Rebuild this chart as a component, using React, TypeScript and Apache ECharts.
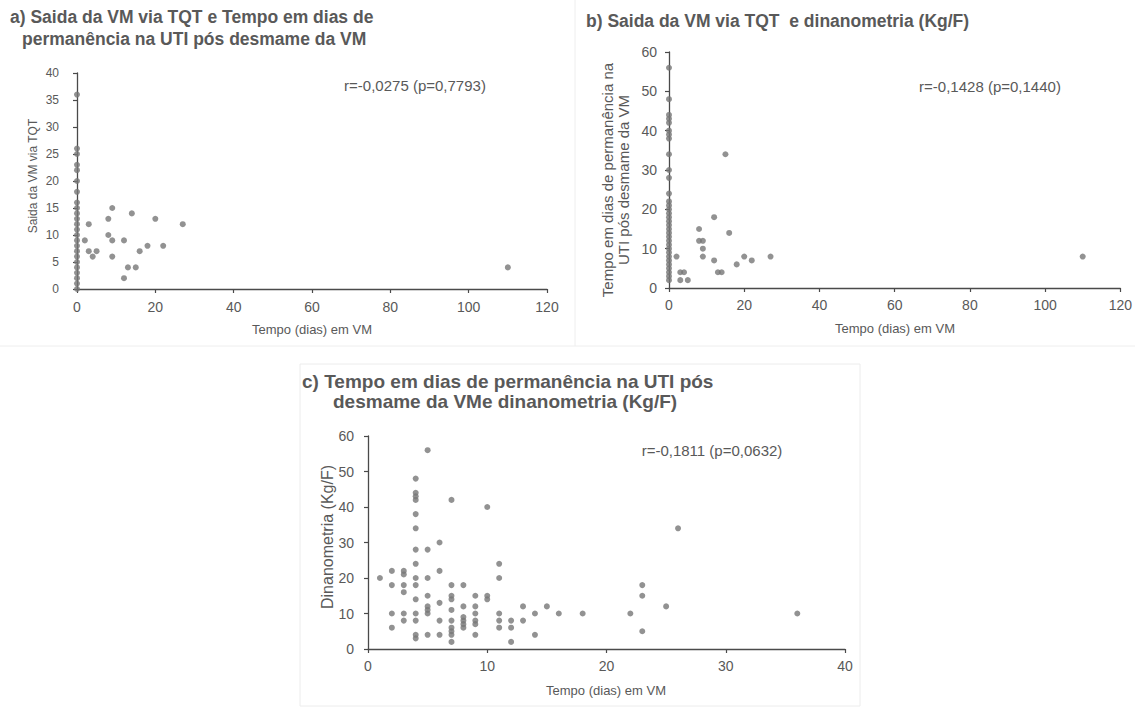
import React, { useEffect, useRef } from "react";
import * as echarts from "echarts";

const FONT = "'Liberation Sans', Arial, sans-serif";
const TEXT = "#595959";
const AXIS = "#4a4a4a";
const DOT = "#777777";

// Panel a: Tempo (dias) em VM vs Saida da VM via TQT
const aTempo = [
  0, 0, 0, 0, 0, 0, 0, 0, 0, 0, 0, 0, 0, 0, 0, 0, 0, 0, 0, 0, 0, 0, 0, 0,
  2, 3, 3, 4, 5, 8, 8, 9, 9, 9, 12, 12, 13, 14, 15, 16, 18, 20, 22, 27, 110,
];
const aSaida = [
  36, 26, 25, 23, 22, 20, 18, 16, 15, 14, 13, 12, 11, 10, 9, 8, 7, 6, 5, 4, 3, 2, 1, 0,
  9, 12, 7, 6, 7, 13, 10, 15, 9, 6, 9, 2, 4, 14, 4, 7, 8, 13, 8, 12, 4,
];

// Panel b: Tempo (dias) em VM vs Tempo em dias de permanência na UTI
const bTempo = [
  0, 0, 0, 0, 0, 0, 0, 0, 0, 0, 0, 0, 0, 0, 0, 0, 0, 0, 0, 0, 0, 0, 0, 0, 0, 0, 0, 0, 0, 0, 0, 0, 0,
  2, 3, 4, 3, 5, 8, 8, 9, 9, 9, 12, 12, 13, 14, 15, 16, 18, 20, 22, 27, 110,
];
const bPermanencia = [
  56, 48, 44, 43, 42, 40, 39, 38, 34, 30, 28, 24, 22, 21, 20, 19, 18, 17, 16, 15, 14, 13, 12, 11, 10, 9, 8, 7, 6, 5, 4, 3, 2,
  8, 4, 4, 2, 2, 15, 12, 12, 10, 8, 18, 7, 4, 4, 34, 14, 6, 8, 7, 8, 8,
];

// Panel c: Tempo (dias) em VM vs Dinanometria (Kg/F)
const cTempo = [
  1,
  2, 2, 2, 2,
  3, 3, 3, 3, 3, 3,
  4, 4, 4, 4, 4, 4, 4, 4, 4, 4, 4, 4, 4, 4, 4,
  5, 5, 5, 5, 5, 5, 5, 5,
  6, 6, 6, 6, 6,
  7, 7, 7, 7, 7, 7, 7, 7, 7, 7,
  8, 8, 8, 8, 8, 8,
  9, 9, 9, 9, 9, 9,
  10, 10, 10,
  11, 11, 11, 11, 11,
  12, 12, 12,
  13, 13,
  14, 14,
  15, 16, 18, 22,
  23, 23, 23,
  25, 26, 36,
];
const cDinanometria = [
  20,
  22, 18, 10, 6,
  22, 21, 18, 16, 10, 8,
  48, 44, 43, 42, 38, 34, 28, 24, 20, 18, 14, 10, 8, 4, 3,
  56, 28, 20, 15, 12, 11, 10, 4,
  30, 22, 13, 8, 4,
  42, 18, 15, 14, 11, 8, 6, 5, 4, 2,
  18, 12, 9, 8, 7, 6,
  15, 12, 10, 8, 7, 4,
  40, 15, 14,
  24, 20, 10, 8, 6,
  8, 6, 2,
  12, 8,
  10, 4,
  12, 10, 10, 10,
  18, 15, 5,
  12, 34, 10,
];

const xTicksAB = { max: 120, interval: 20 };
const yTicksA = { max: 40, interval: 5 };
const yTicksB = { max: 60, interval: 10 };
const xTicksC = { max: 40, interval: 10 };
const yTicksC = { max: 60, interval: 10 };

const titles = {
  a1: "a) Saida da VM via TQT e Tempo em dias de",
  a2: "permanência na UTI pós desmame da VM",
  b1: "b) Saida da VM via TQT  e dinanometria (Kg/F)",
  c1: "c) Tempo em dias de permanência na UTI pós",
  c2: "desmame da VMe dinanometria (Kg/F)",
};
const stats = {
  a: "r=-0,0275 (p=0,7793)",
  b: "r=-0,1428 (p=0,1440)",
  c: "r=-0,1811 (p=0,0632)",
};
const xName = "Tempo (dias) em VM";
const yNameA = "Saida da VM via TQT";
const yNameB1 = "Tempo em dias de permanência na";
const yNameB2 = "UTI pós desmame da VM";
const yNameC = "Dinanometria (Kg/F)";

const zip = (xs: number[], ys: number[]) => xs.map((x, i) => [x, ys[i]]);

function axis(gridIndex: number, t: { max: number; interval: number }, fontSize: number, margin: number) {
  return {
    type: "value",
    gridIndex,
    min: 0,
    max: t.max,
    interval: t.interval,
    axisLine: { show: true, onZero: false, lineStyle: { color: AXIS, width: 1.3 } },
    axisTick: { show: true, length: 4, lineStyle: { color: AXIS, width: 1.2 } },
    axisLabel: { fontSize, color: TEXT, margin, fontFamily: FONT },
    splitLine: { show: false },
  };
}

function txt(x: number, y: number, text: string, fontSize: number, opts: any = {}) {
  return {
    type: "text",
    x,
    y,
    rotation: opts.rotation || 0,
    style: {
      text,
      fontSize,
      fontFamily: FONT,
      fontWeight: opts.bold ? "bold" : "normal",
      fill: TEXT,
      align: opts.align || "center",
      verticalAlign: "middle",
    },
  };
}

export default function App() {
  const ref = useRef<HTMLDivElement>(null);
  useEffect(() => {
    const chart = echarts.init(ref.current!, null, { renderer: "svg" });
    const sym = { symbol: "circle", symbolSize: 6, itemStyle: { color: DOT } };
    chart.setOption({
      animation: false,
      backgroundColor: "#ffffff",
      grid: [
        { left: 77, top: 73, width: 470, height: 216 },
        { left: 669, top: 52, width: 452, height: 236 },
        { left: 368, top: 436, width: 477, height: 213 },
      ],
      xAxis: [axis(0, xTicksAB, 14, 11), axis(1, xTicksAB, 14, 10), axis(2, xTicksC, 14, 10)],
      yAxis: [axis(0, yTicksA, 12, 18), axis(1, yTicksB, 14, 12), axis(2, yTicksC, 14, 14)],
      series: [
        { type: "scatter", xAxisIndex: 0, yAxisIndex: 0, data: zip(aTempo, aSaida), ...sym },
        { type: "scatter", xAxisIndex: 1, yAxisIndex: 1, data: zip(bTempo, bPermanencia), ...sym },
        { type: "scatter", xAxisIndex: 2, yAxisIndex: 2, data: zip(cTempo, cDinanometria), ...sym },
      ],
      graphic: [
        { type: "line", shape: { x1: 575, y1: 0, x2: 575, y2: 346 }, style: { stroke: "#eeeeee", lineWidth: 1 } },
        { type: "line", shape: { x1: 0, y1: 346, x2: 1135, y2: 346 }, style: { stroke: "#eeeeee", lineWidth: 1 } },
        { type: "rect", shape: { x: 300, y: 364, width: 560, height: 342 }, style: { fill: "none", stroke: "#ececec", lineWidth: 1 } },
        txt(10, 17, titles.a1, 17.5, { bold: true, align: "left" }),
        txt(22, 39, titles.a2, 17.5, { bold: true, align: "left" }),
        txt(586, 21, titles.b1, 17.5, { bold: true, align: "left" }),
        txt(302, 381, titles.c1, 19, { bold: true, align: "left" }),
        txt(333, 401, titles.c2, 19, { bold: true, align: "left" }),
        txt(415, 85, stats.a, 15),
        txt(990, 86, stats.b, 15),
        txt(712, 450, stats.c, 15),
        txt(312, 329, xName, 13),
        txt(895, 328, xName, 13),
        txt(606, 690, xName, 13),
        txt(33, 176, yNameA, 12, { rotation: Math.PI / 2 }),
        txt(607, 180, yNameB1, 15, { rotation: Math.PI / 2 }),
        txt(623, 180, yNameB2, 15, { rotation: Math.PI / 2 }),
        txt(327, 537, yNameC, 16, { rotation: Math.PI / 2 }),
      ],
    });
    return () => chart.dispose();
  }, []);
  return (
    <div
      ref={ref}
      style={{ position: "absolute", left: 0, top: 0, width: 1135, height: 711, background: "#fff" }}
    />
  );
}
